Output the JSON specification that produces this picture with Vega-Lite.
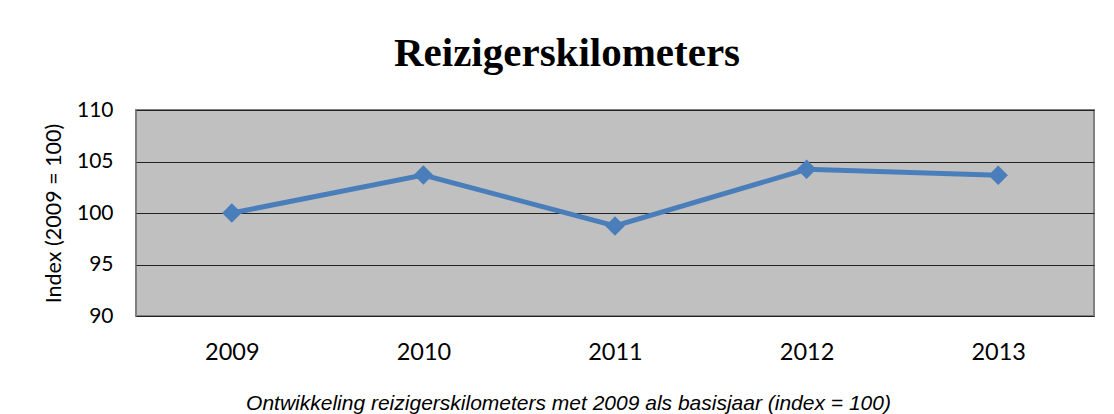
{
  "$schema": "https://vega.github.io/schema/vega-lite/v6.json",
  "width": 958,
  "height": 206,
  "autosize": {"type": "none"},
  "padding": {"left": 136, "top": 110, "right": 20, "bottom": 98},
  "background": "white",
  "title": {
    "text": "Reizigerskilometers",
    "font": "Liberation Serif",
    "fontSize": 41,
    "fontWeight": "bold",
    "color": "black",
    "anchor": "middle",
    "frame": "group",
    "dx": -48,
    "offset": 24
  },
  "config": {
    "view": {"fill": "#C0C0C0", "stroke": "#808080", "strokeWidth": 2}
  },
  "data": {
    "values": [
      {"year": "2009", "index": 100.0},
      {"year": "2010", "index": 103.69},
      {"year": "2011", "index": 98.74},
      {"year": "2012", "index": 104.24},
      {"year": "2013", "index": 103.66}
    ]
  },
  "encoding": {
    "x": {
      "field": "year",
      "type": "ordinal",
      "scale": {"type": "point", "padding": 0.5},
      "axis": {
        "title": "Ontwikkeling reizigerskilometers met 2009 als basisjaar (index = 100)",
        "titleFont": "Liberation Sans",
        "titleFontStyle": "italic",
        "titleFontWeight": "normal",
        "titleFontSize": 21,
        "titleColor": "black",
        "titleX": 432,
        "titleY": 93,
        "titleAlign": "center",
        "titleBaseline": "alphabetic",
        "labelFont": "Lato",
        "labelFontSize": 23.5,
        "labelColor": "black",
        "labelAngle": 0,
        "labelBaseline": "alphabetic",
        "labelPadding": 43,
        "ticks": false,
        "domain": false,
        "grid": false
      }
    },
    "y": {
      "field": "index",
      "type": "quantitative",
      "scale": {"domain": [90, 110], "nice": false, "zero": false},
      "axis": {
        "title": "Index (2009 = 100)",
        "titleFont": "Lato",
        "titleFontSize": 21.5,
        "titleFontWeight": "normal",
        "titleColor": "black",
        "titlePadding": 11,
        "values": [90, 95, 100, 105, 110],
        "labelFont": "Lato",
        "labelFontSize": 21,
        "labelColor": "black",
        "labelPadding": 23,
        "ticks": false,
        "domain": false,
        "grid": true,
        "gridColor": "#222222",
        "gridWidth": 1,
        "gridOpacity": 1
      }
    }
  },
  "layer": [
    {"mark": {"type": "line", "color": "#4A7EBB", "strokeWidth": 5}},
    {"mark": {"type": "point", "shape": "diamond", "filled": true, "size": 380, "color": "#4A7EBB", "opacity": 1}}
  ]
}
